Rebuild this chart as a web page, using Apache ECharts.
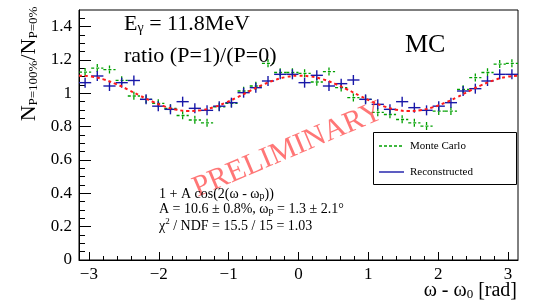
<!DOCTYPE html>
<html><head><meta charset="utf-8">
<script src="https://cdn.jsdelivr.net/npm/echarts@6/dist/echarts.min.js"></script>
<style>html,body{margin:0;padding:0;background:#fff}#c{width:534px;height:307px}</style>
</head><body><div id="c"></div>
<script>
// ---- data ----
const nBins = 36;
const mcValues = [1.127, 1.151, 1.142, 1.078, 0.984, 0.964, 0.940, 0.910, 0.867, 0.840, 0.823, 0.919,
  0.940, 1.014, 1.044, 1.180, 1.125, 1.125, 1.120, 1.068, 1.130, 1.034, 0.974, 0.964,
  0.886, 0.873, 0.843, 0.823, 0.803, 0.893, 0.893, 1.024, 1.094, 1.125, 1.175, 1.180];
const mcErrors = [0.025, 0.025, 0.025, 0.025, 0.025, 0.025, 0.025, 0.025, 0.025, 0.025, 0.025, 0.025,
  0.025, 0.025, 0.025, 0.025, 0.025, 0.025, 0.025, 0.025, 0.025, 0.025, 0.025, 0.025,
  0.025, 0.025, 0.025, 0.025, 0.025, 0.025, 0.025, 0.025, 0.025, 0.025, 0.025, 0.025];
const recoValues = [1.064, 1.104, 1.044, 1.064, 1.077, 0.964, 0.923, 0.904, 0.950, 0.910, 0.898, 0.923,
  0.944, 1.004, 1.034, 1.074, 1.114, 1.114, 1.064, 1.108, 1.044, 1.058, 1.080, 0.964,
  0.934, 0.904, 0.950, 0.914, 0.898, 0.923, 0.944, 1.014, 1.028, 1.074, 1.114, 1.114];
const recoErrors = [0.03, 0.03, 0.03, 0.03, 0.03, 0.03, 0.03, 0.03, 0.03, 0.03, 0.03, 0.03,
  0.03, 0.03, 0.03, 0.03, 0.03, 0.03, 0.03, 0.03, 0.03, 0.03, 0.03, 0.03,
  0.03, 0.03, 0.03, 0.03, 0.03, 0.03, 0.03, 0.03, 0.03, 0.03, 0.03, 0.03];
// fit curve, sampled every pi/18 from -pi to pi
const fitValues = [1.106, 1.101, 1.084, 1.057, 1.023, 0.986, 0.951, 0.922, 0.902, 0.894, 0.899, 0.916,
  0.943, 0.977, 1.014, 1.049, 1.078, 1.098, 1.106, 1.101, 1.084, 1.057, 1.023, 0.986, 0.951,
  0.922, 0.902, 0.894, 0.899, 0.916, 0.943, 0.977, 1.014, 1.049, 1.078, 1.098, 1.106];
const xMajorTicks = [-3, -2, -1, 0, 1, 2, 3];
const yMajorTicks = [0, 0.2, 0.4, 0.6, 0.8, 1, 1.2, 1.4];

// ---- build ----
const PI = Math.PI;
const binW = 2 * PI / nBins;
const xCenters = mcValues.map((_, i) => -PI + (i + 0.5) * binW);
const mcData = mcValues.map((v, i) => [xCenters[i], v, mcErrors[i]]);
const recoData = recoValues.map((v, i) => [xCenters[i], v, recoErrors[i]]);
const fitData = fitValues.map((v, i) => [-PI + i * PI / 18, v]);
const xMinor = [], yMinor = [];
for (let k = -15; k <= 15; k++) if (k % 5 !== 0) xMinor.push(+(k * 0.2).toFixed(2));
for (let k = 1; k < 30; k++) if (k % 4 !== 0) yMinor.push(+(k * 0.05).toFixed(2));

const serif = 'Liberation Serif, DejaVu Serif, serif';
const fmt = v => (v < 0 ? '\u2212' + Math.abs(v) : String(v));

function crossRenderer(color, dash, width) {
  return function (params, api) {
    const x = api.value(0), y = api.value(1), e = api.value(2);
    const l = api.coord([x - binW / 2, y]), r = api.coord([x + binW / 2, y]);
    const t = api.coord([x, y + e]), b = api.coord([x, y - e]);
    const st = { stroke: color, lineWidth: width, lineDash: dash };
    return { type: 'group', children: [
      { type: 'line', shape: { x1: l[0], y1: l[1], x2: r[0], y2: r[1] }, style: st },
      { type: 'line', shape: { x1: t[0], y1: t[1], x2: b[0], y2: b[1] }, style: st }
    ] };
  };
}

const chart = echarts.init(document.getElementById('c'), null, { renderer: 'canvas' });
const axisCommon = { type: 'value', min: -PI, max: PI, splitLine: { show: false } };
chart.setOption({
  animation: false,
  backgroundColor: '#fff',
  grid: { left: 79, right: 16, top: 10, bottom: 47, show: true, borderColor: '#000', borderWidth: 1, backgroundColor: 'transparent' },
  xAxis: [
    Object.assign({}, axisCommon, {
      position: 'bottom',
      axisLine: { show: true, onZero: false, lineStyle: { color: '#000', width: 1 } },
      axisTick: { show: true, inside: true, length: 8, customValues: xMajorTicks, lineStyle: { color: '#000' } },
      axisLabel: { customValues: xMajorTicks, formatter: fmt, fontFamily: serif, fontSize: 17, color: '#000', margin: 6 }
    }),
    Object.assign({}, axisCommon, {
      position: 'bottom',
      axisLine: { show: false, onZero: false },
      axisTick: { show: true, inside: true, length: 4, customValues: xMinor, lineStyle: { color: '#000' } },
      axisLabel: { show: false }
    })
  ],
  yAxis: [
    { type: 'value', min: 0, max: 1.5, splitLine: { show: false },
      axisLine: { show: true, onZero: false, lineStyle: { color: '#000', width: 1 } },
      axisTick: { show: true, inside: true, length: 12, customValues: yMajorTicks, lineStyle: { color: '#000' } },
      axisLabel: { customValues: yMajorTicks, formatter: fmt, fontFamily: serif, fontSize: 17, color: '#000', margin: 7 } },
    { type: 'value', min: 0, max: 1.5, position: 'left', splitLine: { show: false },
      axisLine: { show: false, onZero: false },
      axisTick: { show: true, inside: true, length: 6, customValues: yMinor, lineStyle: { color: '#000' } },
      axisLabel: { show: false } }
  ],
  series: [
    { name: 'Monte Carlo', type: 'custom', renderItem: crossRenderer('#00a000', [3, 2], 1.3), data: mcData, z: 3 },
    { name: 'Reconstructed', type: 'custom', renderItem: crossRenderer('#1818a8', null, 1.4), data: recoData, z: 4 },
    { name: 'fit', type: 'line', data: fitData, smooth: true, showSymbol: false, silent: true,
      lineStyle: { color: '#ff1a1a', width: 2, type: [3, 3] }, z: 5 }
  ],
  graphic: [
    { type: 'text', x: 27, y: 64, rotation: PI / 2, z: 10,
      style: { text: '{b|N}{s|P=100%}{b|/N}{s|P=0%}', align: 'center', verticalAlign: 'middle', fill: '#000',
        rich: { b: { fontFamily: serif, fontSize: 22, lineHeight: 26, verticalAlign: 'bottom' },
                s: { fontFamily: serif, fontSize: 13, lineHeight: 14, verticalAlign: 'bottom' } } } },
    { type: 'text', x: 124, y: 22, z: 10,
      style: { text: '{b|E}{s|γ}{b| = 11.8MeV}', align: 'left', verticalAlign: 'middle', fill: '#000',
        rich: { b: { fontFamily: serif, fontSize: 22, lineHeight: 26, verticalAlign: 'bottom' },
                s: { fontFamily: serif, fontSize: 14, lineHeight: 14, verticalAlign: 'bottom' } } } },
    { type: 'text', x: 124, y: 56, z: 10,
      style: { text: 'ratio (P=1)/(P=0)', font: '22px ' + serif, fill: '#000', align: 'left', verticalAlign: 'middle' } },
    { type: 'text', x: 405, y: 45, z: 10,
      style: { text: 'MC', font: '26px ' + serif, fill: '#000', align: 'left', verticalAlign: 'middle' } },
    { type: 'text', x: 288, y: 150, rotation: 23 * PI / 180, z: 9,
      style: { text: 'PRELIMINARY', font: '30px ' + serif, fill: 'rgba(255,60,60,0.7)', align: 'center', verticalAlign: 'middle' } },
    // fit text
    { type: 'text', x: 159, y: 193, z: 10,
      style: { text: '{n|1 + A cos(2(ω - ω}{s|p}{n|))}', align: 'left', verticalAlign: 'middle', fill: '#000',
        rich: { n: { fontFamily: serif, fontSize: 14, lineHeight: 16, verticalAlign: 'bottom' },
                s: { fontFamily: serif, fontSize: 10, lineHeight: 10, verticalAlign: 'bottom', padding: [8, 0, 0, 0] } } } },
    { type: 'text', x: 159, y: 208, z: 10,
      style: { text: '{n|A = 10.6 ± 0.8%, ω}{s|p}{n| = 1.3 ± 2.1°}', align: 'left', verticalAlign: 'middle', fill: '#000',
        rich: { n: { fontFamily: serif, fontSize: 14, lineHeight: 16, verticalAlign: 'bottom' },
                s: { fontFamily: serif, fontSize: 10, lineHeight: 10, verticalAlign: 'bottom', padding: [8, 0, 0, 0] } } } },
    { type: 'text', x: 159, y: 225, z: 10,
      style: { text: '{n|χ}{u|2}{n| / NDF = 15.5 / 15 = 1.03}', align: 'left', verticalAlign: 'middle', fill: '#000',
        rich: { n: { fontFamily: serif, fontSize: 14, lineHeight: 16, verticalAlign: 'bottom' },
                u: { fontFamily: serif, fontSize: 9, lineHeight: 16, verticalAlign: 'top' } } } },
    // legend box
    { type: 'rect', shape: { x: 373.5, y: 132.5, width: 143, height: 52 }, z: 8,
      style: { fill: '#fff', stroke: '#000', lineWidth: 1 } },
    { type: 'line', shape: { x1: 379, y1: 146, x2: 404, y2: 146 }, z: 10,
      style: { stroke: '#00a000', lineWidth: 1.3, lineDash: [3, 2] } },
    { type: 'text', x: 410, y: 146, z: 10,
      style: { text: 'Monte Carlo', font: '11px ' + serif, fill: '#000', align: 'left', verticalAlign: 'middle' } },
    { type: 'line', shape: { x1: 379, y1: 172, x2: 404, y2: 172 }, z: 10,
      style: { stroke: '#1818a8', lineWidth: 1.4 } },
    { type: 'text', x: 410, y: 172, z: 10,
      style: { text: 'Reconstructed', font: '11px ' + serif, fill: '#000', align: 'left', verticalAlign: 'middle' } },
    // x-axis title
    { type: 'text', x: 517, y: 289, z: 10,
      style: { text: '{b|ω - ω}{s|0}{b| [rad]}', align: 'right', verticalAlign: 'middle', fill: '#000',
        rich: { b: { fontFamily: serif, fontSize: 20, lineHeight: 24, verticalAlign: 'bottom' },
                s: { fontFamily: serif, fontSize: 13, lineHeight: 13, verticalAlign: 'bottom', padding: [4, 0, 0, 0] } } } }
  ]
});
</script></body></html>
